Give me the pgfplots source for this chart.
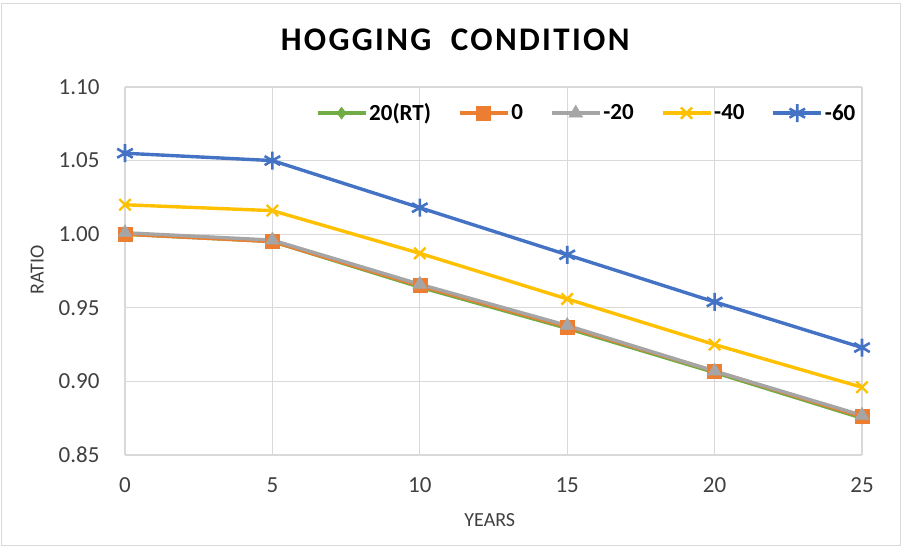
\documentclass[border=0pt]{standalone}
\usepackage{pgfplots}
\pgfplotsset{compat=1.18}
\usepackage{fontspec}
\setmainfont{Carlito}
\newfontfamily\titlefont[LetterSpace=7]{Carlito}
\definecolor{cgreen}{HTML}{70AD47}
\definecolor{corange}{HTML}{ED7D31}
\definecolor{cgray}{HTML}{A5A5A5}
\definecolor{cyellow}{HTML}{FFC000}
\definecolor{cblue}{HTML}{4472C4}
\definecolor{gridc}{HTML}{D9D9D9}
\definecolor{txt}{HTML}{404040}
\begin{document}
\begin{tikzpicture}
\useasboundingbox (-125pt,-92pt) rectangle (777pt,455pt);
\draw[gridc, line width=1pt] (-123pt,-90pt) rectangle (775pt,451pt);
\begin{axis}[
  at={(0,0)}, anchor=south west,
  scale only axis, width=737pt, height=368pt,
  xmin=0, xmax=25, ymin=0.85, ymax=1.10,
  xtick={0,5,10,15,20,25},
  ytick={0.85,0.90,0.95,1.00,1.05,1.10},
  /pgf/number format/assume math mode=true,
  yticklabel style={/pgf/number format/fixed, /pgf/number format/fixed zerofill, /pgf/number format/precision=2, xshift=-22pt},
  xticklabel style={yshift=-19pt},
  tick label style={font=\fontsize{23}{27}\selectfont, text=txt},
  grid=major,
  major grid style={gridc, line width=1.2pt},
  axis line style={draw=none},
  major tick length=0pt,
  title={\titlefont\bfseries HOGGING\ \ CONDITION},
  title style={at={(axis description cs:0.448,1.111)}, anchor=center, font=\fontsize{33}{40}\selectfont},
  xlabel={YEARS},
  xlabel style={at={(axis description cs:0.495,0)}, anchor=center, yshift=-65pt, font=\fontsize{20}{24}\selectfont, text=txt},
  ylabel={RATIO},
  ylabel style={at={(axis description cs:-0.119,0.503)}, anchor=center, rotate=0, font=\fontsize{20}{24}\selectfont, text=txt},
  legend columns=5,
  legend style={at={(rel axis cs:0.998,0.929)}, anchor=east, draw=none, fill=none,
    font=\bfseries\fontsize{23}{27}\selectfont,
    /tikz/every odd column/.append style={column sep=0pt},
    /tikz/every even column/.append style={column sep=25pt}},
  legend image code/.code={\draw[mark repeat=2,mark phase=2,#1] plot coordinates {(0pt,0pt) (24pt,0pt) (48pt,0pt)};},
]
\addplot[cgreen, line width=3.4pt, mark=diamond*, mark size=6pt, mark options={solid, fill=cgreen, line width=0.5pt}] coordinates {
(0,1.000) (5,0.995) (10,0.964) (15,0.936) (20,0.906) (25,0.875)};
\addlegendentry{20(RT)}
\addplot[corange, line width=3.4pt, mark=square*, mark size=7pt, mark options={solid, fill=corange, line width=0.5pt}] coordinates {
(0,1.000) (5,0.995) (10,0.965) (15,0.937) (20,0.907) (25,0.876)};
\addlegendentry{0}
\addplot[cgray, line width=3.4pt, mark=triangle*, mark size=8pt, mark options={solid, fill=cgray, line width=0.5pt}] coordinates {
(0,1.001) (5,0.996) (10,0.966) (15,0.938) (20,0.907) (25,0.877)};
\addlegendentry{-20}
\addplot[cyellow, line width=3.4pt, mark=x, mark size=8pt, mark options={solid, line width=2.4pt}] coordinates {
(0,1.020) (5,1.016) (10,0.987) (15,0.956) (20,0.925) (25,0.896)};
\addlegendentry{-40}
\addplot[cblue, line width=3.4pt, mark=asterisk, mark size=9pt, mark options={solid, line width=2.6pt}] coordinates {
(0,1.055) (5,1.050) (10,1.018) (15,0.986) (20,0.954) (25,0.923)};
\addlegendentry{-60}
\end{axis}
\end{tikzpicture}
\end{document}
